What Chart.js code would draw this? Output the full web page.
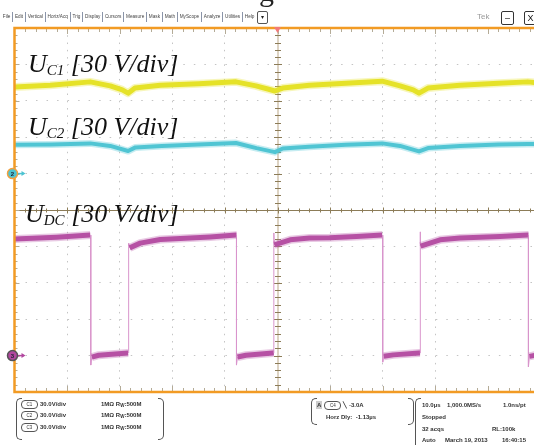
<!DOCTYPE html>
<html>
<head>
<meta charset="utf-8">
<script src="https://cdn.jsdelivr.net/npm/chart.js@4/dist/chart.umd.min.js"></script>
<style>
  body { margin: 0; background: #fff; overflow: hidden; }
  #wrap { position: relative; width: 534px; height: 445px; overflow: hidden; font-family: "Liberation Sans", Arial, sans-serif; }
  canvas { position: absolute; left: 0; top: 0; }
  .lbl { position: absolute; font-family: "Liberation Serif", serif; font-style: italic; font-size: 26px; line-height: 26px; color: #111; white-space: nowrap; }
  .lbl sub { font-size: 15px; vertical-align: -3px; line-height: 0; }
  .cap { position: absolute; left: 259px; top: -24px; font-family: "Liberation Serif", serif; font-size: 30px; line-height: 30px; color: #222; }
  #menu { position: absolute; left: 1px; top: 11px; height: 12px; display: flex; align-items: center; font-size: 4.7px; color: #444; white-space: nowrap; }
  #menu span { padding: 0 1.8px; border-right: 1px solid #8a94a8; line-height: 10px; }
  #menu span:last-child { border-right: none; }
  .drop { position: absolute; left: 257px; top: 11px; width: 9px; height: 11px; border: 1px solid #555; border-radius: 2px; font-size: 6px; line-height: 11px; text-align: center; color: #222; }
  .tek { position: absolute; left: 477px; top: 12px; font-size: 8px; color: #999; }
  .winbtn { position: absolute; top: 11px; width: 11px; height: 12px; border: 1px solid #333; border-radius: 2px; font-size: 9px; line-height: 12px; text-align: center; color: #111; }
  .bl { position: absolute; width: 5px; border: 1px solid #555; border-right: none; border-radius: 5px 0 0 5px; }
  .br { position: absolute; width: 5px; border: 1px solid #555; border-left: none; border-radius: 0 5px 5px 0; }
  .st { position: absolute; font-size: 6px; font-weight: bold; color: #333; white-space: nowrap; line-height: 8px; }
  .st sub { font-size: 4.5px; vertical-align: -1px; line-height: 0; }
  .ov { display: inline-block; width: 15px; height: 7px; border: 1px solid #555; border-radius: 4px; font-size: 4.5px; line-height: 7px; text-align: center; font-weight: normal; vertical-align: middle; margin-right: 2px; }
  .ga { display: inline-block; background: #ccc; padding: 0 1px; margin-right: 2px; }
</style>
</head>
<body>
<div id="wrap">
  <canvas id="c" width="534" height="445"></canvas>

  <div class="cap">g</div>

  <div id="menu"></div>
  <div class="drop">&#9662;</div>
  <div class="tek">Tek</div>
  <div class="winbtn" style="left:501px">&ndash;</div>
  <div class="winbtn" style="left:524px">X</div>

  <div class="lbl" style="left:28px; top:51px">U<sub>C1</sub> [30 V/div]</div>
  <div class="lbl" style="left:28px; top:114px">U<sub>C2</sub> [30 V/div]</div>
  <div class="lbl" style="left:25px; top:201px">U<sub>DC</sub> [30 V/div]</div>

  <!-- channel readout -->
  <div class="bl" style="left:16px; top:398px; height:40px"></div>
  <div class="br" style="left:158px; top:398px; height:40px"></div>
  <div class="st" style="left:21px; top:400px"><span class="ov">C1</span>30.0V/div</div>
  <div class="st" style="left:21px; top:411px"><span class="ov">C2</span>30.0V/div</div>
  <div class="st" style="left:21px; top:423px"><span class="ov">C3</span>30.0V/div</div>
  <div class="st" style="left:101px; top:400px">1M&Omega; R<sub>W</sub>:500M</div>
  <div class="st" style="left:101px; top:411px">1M&Omega; R<sub>W</sub>:500M</div>
  <div class="st" style="left:101px; top:423px">1M&Omega; R<sub>W</sub>:500M</div>

  <!-- trigger readout -->
  <div class="bl" style="left:311px; top:398px; height:25px"></div>
  <div class="br" style="left:408px; top:398px; height:25px"></div>
  <div class="st" style="left:316px; top:401px"><span class="ga">A</span><span class="ov">C4</span>&#9586; -3.0A</div>
  <div class="st" style="left:326px; top:413px">Horz Dly: &nbsp;-1.13&micro;s</div>

  <!-- acquisition readout -->
  <div class="bl" style="left:415px; top:398px; height:50px"></div>
  <div class="st" style="left:422px; top:401px">10.0&micro;s</div>
  <div class="st" style="left:447px; top:401px">1,000.0MS/s</div>
  <div class="st" style="left:503px; top:401px">1.0ns/pt</div>
  <div class="st" style="left:422px; top:413px">Stopped</div>
  <div class="st" style="left:422px; top:425px">32 acqs</div>
  <div class="st" style="left:492px; top:425px">RL:100k</div>
  <div class="st" style="left:422px; top:436px">Auto</div>
  <div class="st" style="left:445px; top:436px">March 19, 2013</div>
  <div class="st" style="left:502px; top:436px">16:40:15</div>
</div>

<script>
// horizontal: microseconds (10 us/div), vertical: screen divisions
const menuItems = ["File", "Edit", "Vertical", "Horiz/Acq", "Trig", "Display", "Cursors",
  "Measure", "Mask", "Math", "MyScope", "Analyze", "Utilities", "Help"];

const uc1Time = [0, 6.8, 14.4, 18.2, 20.5, 21.6, 22.9, 27.7, 35, 42.1, 45.9, 48.5, 49.5, 51.0, 56.1, 63, 69.9, 73.3, 75.8, 76.9, 78.6, 84.7, 92, 97.6, 100];
const uc1Div  = [3.38, 3.43, 3.52, 3.41, 3.30, 3.21, 3.35, 3.43, 3.47, 3.52, 3.41, 3.31, 3.27, 3.35, 3.43, 3.48, 3.54, 3.41, 3.30, 3.21, 3.35, 3.43, 3.48, 3.52, 3.49];

const uc2Time = [0, 7, 14.4, 18.2, 21.6, 23, 28, 35, 42.1, 46, 49.5, 51, 56, 63, 69.9, 73.3, 76.9, 78.6, 84.7, 92, 97.6, 100];
const uc2Div  = [1.79, 1.80, 1.83, 1.76, 1.62, 1.72, 1.76, 1.80, 1.84, 1.70, 1.59, 1.69, 1.74, 1.79, 1.83, 1.76, 1.61, 1.70, 1.76, 1.80, 1.81, 1.81];

const udcTime = [0, 8, 14.4, 14.5, 14.5, 14.7, 16, 21.6, 21.7, 21.7, 21.9, 23.9, 27.7, 31.5, 37.2, 42.1,
  42.2, 42.2, 42.4, 44, 49.1, 49.3, 49.3, 49.4, 52.4, 56.1, 59.9, 65, 69.9,
  70.0, 70.0, 70.2, 72, 76.9, 77.1, 77.1, 77.2, 80.9, 84.7, 92.3, 97.6, 97.7, 97.7, 97.9, 100];
const udcDiv  = [-0.80, -0.75, -0.69, -0.69, -4.26, -4.04, -3.99, -3.93, -3.93, -0.91, -1.04, -0.91, -0.81, -0.78, -0.74, -0.69,
  -0.69, -4.26, -4.04, -3.99, -3.93, -3.93, -0.63, -0.96, -0.82, -0.77, -0.76, -0.73, -0.69,
  -0.69, -4.18, -4.02, -3.98, -3.93, -3.93, -0.60, -0.99, -0.82, -0.77, -0.73, -0.69, -0.69, -4.31, -4.02, -3.96];

// ground markers, in divisions
const ch2Ground = 1;
const ch3Ground = -4;

const menu = document.getElementById("menu");
menuItems.forEach(m => {
  const s = document.createElement("span");
  s.textContent = m;
  menu.appendChild(s);
});

const pts = (t, v) => t.map((x, i) => ({ x: x, y: v[i] }));
const steep = c => Math.abs(c.p1.y - c.p0.y) > 2 * Math.abs(c.p1.x - c.p0.x);

function trace(label, t, v, color, halo, edge, width) {
  return [
    { label: label + " halo", data: pts(t, v), borderColor: halo, borderWidth: width + 3,
      segment: { borderColor: c => steep(c) ? "rgba(0,0,0,0)" : halo } },
    { label: label, data: pts(t, v), borderColor: color, borderWidth: width,
      segment: { borderWidth: c => steep(c) ? 1 : width, borderColor: c => steep(c) ? edge : color } }
  ];
}

const scopeDeco = {
  id: "scopeDeco",
  beforeDatasetsDraw(chart) {
    const { ctx, chartArea: a, scales: { x, y } } = chart;
    const cx = Math.round(x.getPixelForValue(50));
    const cy = Math.round(y.getPixelForValue(0)) + 0.5;
    ctx.save();
    ctx.strokeStyle = "#ddd3c3"; ctx.lineWidth = 2;
    ctx.beginPath(); ctx.moveTo(cx, a.top); ctx.lineTo(cx, a.bottom); ctx.stroke();
    ctx.strokeStyle = "#8c7c58"; ctx.lineWidth = 1;
    ctx.beginPath(); ctx.moveTo(a.left, cy); ctx.lineTo(a.right, cy); ctx.stroke();

    ctx.beginPath();
    for (let t = 2; t < 100; t += 2) {
      const px = Math.round(x.getPixelForValue(t)) + 0.5;
      const major = t % 10 === 0;
      ctx.moveTo(px, cy - (major ? 3 : 2)); ctx.lineTo(px, cy + (major ? 3 : 2));
    }
    for (let k = -24; k <= 24; k++) {
      if (k === 0) continue;
      const py = Math.round(y.getPixelForValue(k / 5)) + 0.5;
      const major = k % 5 === 0;
      ctx.moveTo(cx - (major ? 4 : 3), py); ctx.lineTo(cx + (major ? 4 : 3), py);
    }
    ctx.stroke();

    ctx.strokeStyle = "#b4ab97";
    ctx.beginPath();
    for (let t = 2; t < 100; t += 2) {
      const px = Math.round(x.getPixelForValue(t)) + 0.5;
      const len = t % 10 === 0 ? 6 : 4;
      ctx.moveTo(px, a.top); ctx.lineTo(px, a.top + len);
      ctx.moveTo(px, a.bottom); ctx.lineTo(px, a.bottom - len);
    }
    for (let k = -24; k <= 24; k++) {
      const py = Math.round(y.getPixelForValue(k / 5)) + 0.5;
      const len = k % 5 === 0 ? 5 : 3;
      ctx.moveTo(a.left, py); ctx.lineTo(a.left + len, py);
    }
    ctx.stroke();
    ctx.restore();
  },
  afterDatasetsDraw(chart) {
    const { ctx, chartArea: a, scales: { x, y } } = chart;
    ctx.save();
    ctx.strokeStyle = "#f29b24"; ctx.lineWidth = 2.5;
    ctx.beginPath();
    ctx.moveTo(a.right + 5, a.top); ctx.lineTo(a.left, a.top);
    ctx.lineTo(a.left, a.bottom); ctx.lineTo(a.right + 5, a.bottom);
    ctx.stroke();

    // trigger position marker
    const tx = x.getPixelForValue(50);
    ctx.fillStyle = "#f27a7a";
    ctx.beginPath();
    ctx.moveTo(tx - 3.5, a.top - 1); ctx.lineTo(tx + 3.5, a.top - 1); ctx.lineTo(tx, a.top + 5);
    ctx.closePath(); ctx.fill();

    // channel ground markers
    const marker = (val, fill, ring, num) => {
      const py = y.getPixelForValue(val);
      const mx = a.left - 2;
      ctx.strokeStyle = fill; ctx.lineWidth = 1.5;
      ctx.beginPath(); ctx.moveTo(mx + 4, py); ctx.lineTo(mx + 11, py); ctx.stroke();
      ctx.fillStyle = fill;
      ctx.beginPath(); ctx.moveTo(mx + 13, py); ctx.lineTo(mx + 9, py - 2.5); ctx.lineTo(mx + 9, py + 2.5); ctx.fill();
      ctx.beginPath(); ctx.arc(mx, py, 5, 0, Math.PI * 2);
      ctx.fill();
      ctx.strokeStyle = ring; ctx.lineWidth = 1.5; ctx.stroke();
      ctx.fillStyle = "#223";
      ctx.font = "bold 6px 'Liberation Sans'";
      ctx.textAlign = "center"; ctx.textBaseline = "middle";
      ctx.fillText(num, mx, py + 0.5);
    };
    marker(ch2Ground, "#4cc3d2", "#f0a040", "2");
    marker(ch3Ground, "#b2479f", "#555", "3");
    ctx.restore();
  }
};

new Chart(document.getElementById("c"), {
  type: "line",
  data: {
    datasets: [
      ...trace("UDC", udcTime, udcDiv, "#b2479f", "rgba(190,100,175,0.35)", "#d995cc", 5),
      ...trace("UC2", uc2Time, uc2Div, "#4cc3d2", "rgba(90,200,215,0.35)", "#4cc3d2", 4),
      ...trace("UC1", uc1Time, uc1Div, "#e4e01e", "rgba(232,228,60,0.35)", "#e4e01e", 5)
    ]
  },
  options: {
    responsive: false,
    animation: false,
    devicePixelRatio: 1,
    events: [],
    layout: { padding: { left: 14.5, top: 28, right: 0, bottom: 53 } },
    elements: {
      point: { radius: 0 },
      line: { tension: 0, borderJoinStyle: "round", borderCapStyle: "butt" }
    },
    plugins: { legend: { display: false }, tooltip: { enabled: false } },
    scales: {
      x: {
        type: "linear", min: 0, max: 98.76,
        ticks: { display: false, stepSize: 10 },
        grid: { drawTicks: false, color: c => (c.tick.value === 0 || c.tick.value === 50) ? "rgba(0,0,0,0)" : "#c4c4c4" },
        border: { display: false, dash: [1.5, 5.78] },
        afterFit: s => { s.height = 0; }
      },
      y: {
        min: -5, max: 5,
        ticks: { display: false, stepSize: 1 },
        grid: { drawTicks: false, color: c => (Math.abs(c.tick.value) === 5 || c.tick.value === 0) ? "rgba(0,0,0,0)" : "#c4c4c4" },
        border: { display: false, dash: [1.5, 9.02] },
        afterFit: s => { s.width = 0; }
      }
    }
  },
  plugins: [scopeDeco]
});
</script>
</body>
</html>
